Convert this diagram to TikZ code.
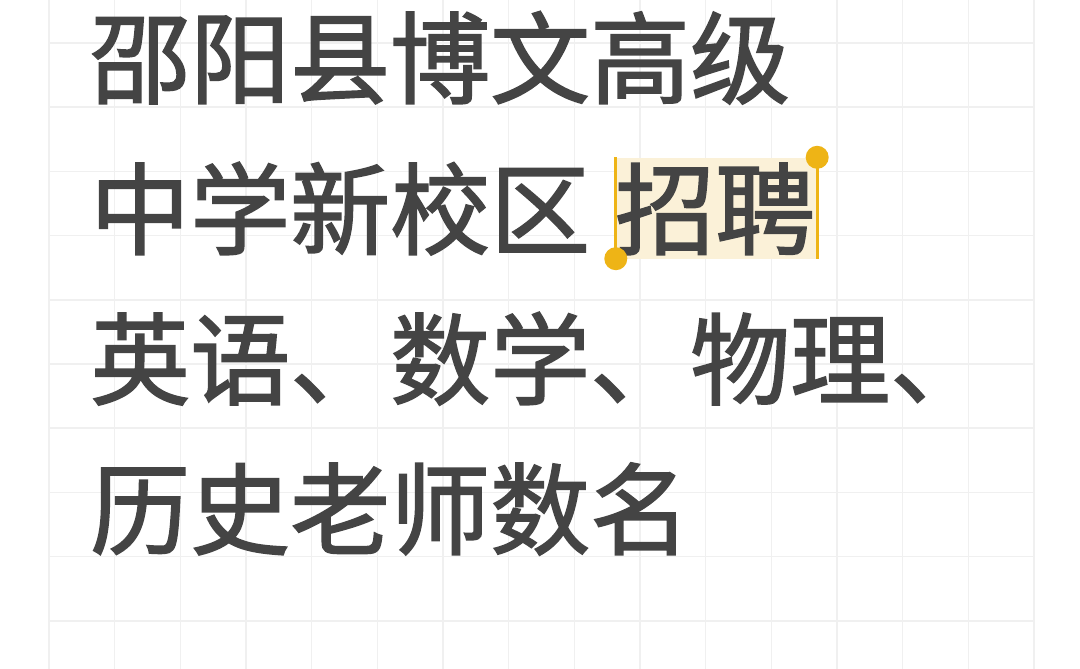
\documentclass[tikz,border=0pt]{standalone}
\usepackage{fontspec}
\newfontfamily\cjk[FakeBold=1.6]{Noto Sans CJK SC}
\usetikzlibrary{positioning}
\definecolor{gridline}{HTML}{F0F0F0}
\definecolor{inkgray}{HTML}{444444}
\definecolor{markfill}{HTML}{FBF1D8}
\definecolor{handle}{HTML}{EEB416}
\tikzset{
	titleline/.style={anchor=base west,inner sep=0pt,text=inkgray,font=\cjk\fontsize{100pt}{100pt}\selectfont},
	handledot/.style={circle,fill=handle,inner sep=0pt,minimum size=23pt},
}
\begin{document}
\begin{tikzpicture}[x=1pt,y=-1pt]
		\useasboundingbox (0,0) rectangle (1080,669);
		\fill[white] (0,0) rectangle (1080,669);
		\foreach \i in {0,...,15}
		\draw[gridline,line width=1.5pt] ({49+65.67*\i},0) -- ({49+65.67*\i},669);
		\foreach \j in {0,...,9}
		\draw[gridline,line width=1.5pt] (49,{43+64.2*\j}) -- (1034,{43+64.2*\j});
		\node[minimum width=201pt,minimum height=101pt,inner sep=0pt,fill=markfill] (mark) at (716.5,208) {};
		\node[titleline] (line_1) at (90,96) {邵阳县博文高级};
		\node[titleline] (line_2) at (90,247) {中学新校区};
		\node[titleline] (word) at (615,247) {招聘};
		\node[titleline] (line_3) at (90,397) {英语、数学、物理、};
		\node[titleline] (line_4) at (90,547) {历史老师数名};
		\draw[handle,line width=3pt] (mark.north west) -- (mark.south west);
		\draw[handle,line width=3pt] (mark.north east) -- (mark.south east);
		\node[handledot] (dot_a) at (mark.south west) {};
		\node[handledot] (dot_b) at (mark.north east) {};
	\end{tikzpicture}
\end{document}
